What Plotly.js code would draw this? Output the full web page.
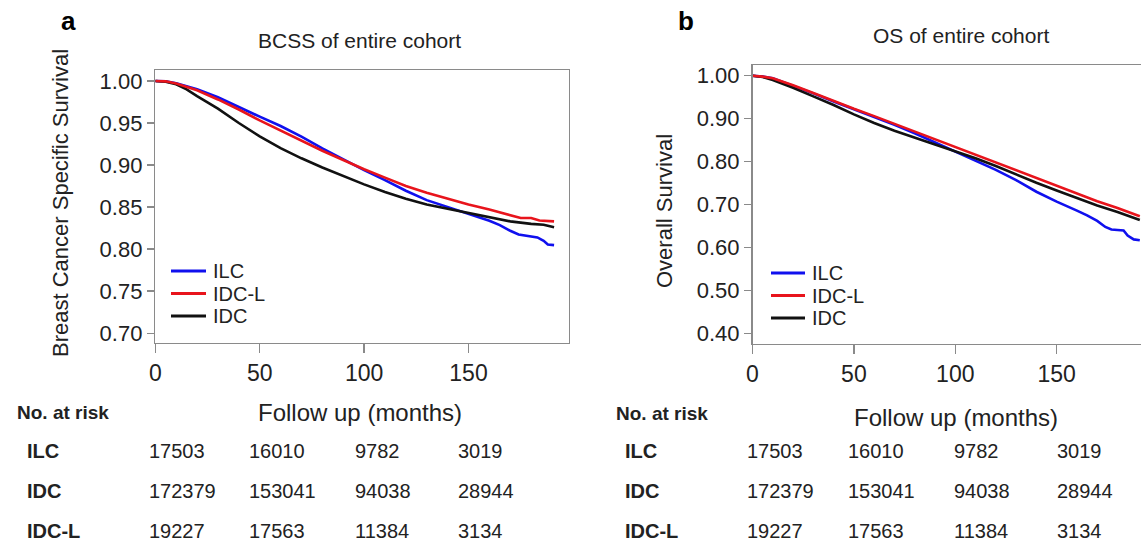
<!DOCTYPE html>
<html>
<head>
<meta charset="utf-8">
<script src="https://cdn.plot.ly/plotly-3.0.1.min.js"></script>
<style>
html, body { margin: 0; padding: 0; background: #fff; overflow: hidden; }
#chart { width: 1200px; height: 542px; }
</style>
</head>
<body>
<div id="chart"></div>
<script>
// ---------------- DATA ----------------
const seriesNames = ["ILC", "IDC-L", "IDC"];
const seriesColors = ["#1010ee", "#e8141c", "#111111"];

// Panel a: Breast Cancer Specific Survival (BCSS)
const bcssIlcMonths = [0, 5, 10, 20, 30, 40, 50, 60, 70, 80, 90, 100, 110, 120, 130, 140, 150, 155, 160, 165, 170, 174, 180, 183, 186, 188, 191];
const bcssIlcSurv   = [1.000, 0.9995, 0.9972, 0.990, 0.9806, 0.9687, 0.9575, 0.9464, 0.9337, 0.9198, 0.9067, 0.894, 0.8821, 0.8694, 0.8583, 0.8504, 0.8425, 0.8377, 0.8337, 0.8286, 0.8218, 0.8175, 0.8155, 0.8139, 0.810, 0.8056, 0.8048];
const bcssIdclMonths = [0, 5, 10, 20, 30, 40, 50, 60, 70, 80, 90, 100, 110, 120, 130, 140, 150, 160, 170, 175, 180, 184, 191];
const bcssIdclSurv   = [1.000, 0.9995, 0.997, 0.989, 0.978, 0.966, 0.953, 0.941, 0.929, 0.917, 0.906, 0.895, 0.885, 0.875, 0.867, 0.860, 0.853, 0.847, 0.840, 0.837, 0.837, 0.834, 0.833];
const bcssIdcMonths = [0, 5, 10, 15, 20, 25, 30, 40, 50, 60, 70, 80, 90, 100, 110, 120, 130, 140, 150, 160, 170, 180, 186, 191];
const bcssIdcSurv   = [1.000, 0.999, 0.996, 0.990, 0.982, 0.975, 0.967, 0.950, 0.934, 0.920, 0.908, 0.897, 0.887, 0.877, 0.868, 0.860, 0.853, 0.848, 0.843, 0.838, 0.833, 0.830, 0.829, 0.826];

// Panel b: Overall Survival (OS)
const osIlcMonths = [0, 5, 10, 20, 30, 40, 50, 60, 70, 80, 90, 100, 110, 120, 130, 140, 150, 155, 160, 165, 170, 174, 177, 180, 183, 185, 188, 191];
const osIlcSurv   = [1.000, 0.998, 0.994, 0.977, 0.959, 0.940, 0.922, 0.905, 0.886, 0.866, 0.845, 0.824, 0.802, 0.781, 0.757, 0.730, 0.707, 0.697, 0.686, 0.675, 0.662, 0.648, 0.642, 0.641, 0.640, 0.628, 0.619, 0.617];
const osIdclMonths = [0, 5, 10, 20, 30, 40, 50, 60, 70, 80, 90, 100, 110, 120, 130, 140, 150, 160, 170, 180, 186, 191];
const osIdclSurv   = [1.000, 0.998, 0.994, 0.978, 0.960, 0.941, 0.923, 0.906, 0.888, 0.870, 0.852, 0.834, 0.815, 0.797, 0.779, 0.762, 0.744, 0.726, 0.708, 0.692, 0.681, 0.673];
const osIdcMonths = [0, 5, 10, 20, 30, 40, 50, 60, 70, 80, 90, 100, 110, 120, 130, 140, 150, 160, 170, 180, 186, 191];
const osIdcSurv   = [1.000, 0.997, 0.990, 0.972, 0.952, 0.932, 0.910, 0.890, 0.872, 0.856, 0.840, 0.824, 0.808, 0.790, 0.770, 0.751, 0.733, 0.715, 0.698, 0.683, 0.673, 0.664];

// Tick labels
const xTickVals = [0, 50, 100, 150];
const bcssTickVals = [0.70, 0.75, 0.80, 0.85, 0.90, 0.95, 1.00];
const osTickVals = [0.40, 0.50, 0.60, 0.70, 0.80, 0.90, 1.00];

// Number at risk table
const riskRowLabels = ["ILC", "IDC", "IDC-L"];
const riskIlc  = ["17503", "16010", "9782", "3019"];
const riskIdc  = ["172379", "153041", "94038", "28944"];
const riskIdcl = ["19227", "17563", "11384", "3134"];

// Text
const panelTitles = ["BCSS of entire cohort", "OS of entire cohort"];
const panelLetters = ["a", "b"];
const yTitles = ["Breast Cancer Specific Survival", "Overall Survival"];
const xTitle = "Follow up (months)";
const riskHeader = "No. at risk";

// ---------------- LAYOUT HELPERS ----------------
const W = 1200, H = 542;
const px = x => x / W;
const py = y => 1 - y / H;
const FONT = "Liberation Sans, Arial, Helvetica, sans-serif";
const TXT = "#222222";
const AX = "#8a8a8a";

const lw = 2.6;
const traces = [
  {x: bcssIlcMonths, y: bcssIlcSurv, color: seriesColors[0], ax: ""},
  {x: bcssIdcMonths, y: bcssIdcSurv, color: seriesColors[2], ax: ""},
  {x: bcssIdclMonths, y: bcssIdclSurv, color: seriesColors[1], ax: ""},
  {x: osIlcMonths, y: osIlcSurv, color: seriesColors[0], ax: "2"},
  {x: osIdcMonths, y: osIdcSurv, color: seriesColors[2], ax: "2"},
  {x: osIdclMonths, y: osIdclSurv, color: seriesColors[1], ax: "2"}
].map(t => ({
  type: "scatter", mode: "lines", x: t.x, y: t.y,
  xaxis: "x" + t.ax, yaxis: "y" + t.ax,
  line: {color: t.color, width: lw, shape: "linear"},
  showlegend: false, hoverinfo: "skip"
}));

function xAxis(domain, anchor) {
  return {
    domain: domain, anchor: anchor, range: [0, 198],
    tickvals: xTickVals, ticks: "outside", ticklen: 9, tickwidth: 1.5, tickcolor: AX,
    showline: true, mirror: true, linecolor: AX, linewidth: 1.5,
    showgrid: false, zeroline: false,
    tickfont: {family: FONT, size: 23, color: TXT}
  };
}
function yAxis(domain, anchor, range, vals) {
  return {
    domain: domain, anchor: anchor, range: range,
    tickvals: vals, tickformat: ".2f", ticks: "outside", ticklen: 7, tickwidth: 1.5, tickcolor: AX,
    showline: true, mirror: true, linecolor: AX, linewidth: 1.5,
    showgrid: false, zeroline: false,
    tickfont: {family: FONT, size: 22, color: TXT}
  };
}

const annotations = [];
const shapes = [];
function txt(x, y, text, size, opts) {
  annotations.push(Object.assign({
    xref: "paper", yref: "paper", x: px(x), y: py(y), text: text, showarrow: false,
    xanchor: "center", yanchor: "middle",
    font: {family: FONT, size: size, color: TXT}
  }, opts || {}));
}

// panel letters
txt(68, 21, "<b>" + panelLetters[0] + "</b>", 26, {font: {family: FONT, size: 26, color: "#000"}});
txt(686, 21, "<b>" + panelLetters[1] + "</b>", 26, {font: {family: FONT, size: 26, color: "#000"}});
// titles
txt(359, 40, panelTitles[0], 21);
txt(961, 35, panelTitles[1], 21);
// y titles
txt(61, 203, yTitles[0], 22, {textangle: -90});
txt(665, 211, yTitles[1], 22, {textangle: -90});
// x titles
txt(360, 412, xTitle, 24);
txt(956, 417, xTitle, 24);
// risk headers
txt(15, 412, "<b>" + riskHeader + "</b>", 19, {xanchor: "left"});
txt(614, 413, "<b>" + riskHeader + "</b>", 19, {xanchor: "left"});

// risk table
const riskRows = [riskIlc, riskIdc, riskIdcl];
const rowYs = [451, 491, 531];
const colXa = [147, 247, 353, 456];
const colXb = [745, 846, 952, 1055];
riskRows.forEach((row, i) => {
  txt(25, rowYs[i], "<b>" + riskRowLabels[i] + "</b>", 20, {xanchor: "left"});
  txt(623, rowYs[i], "<b>" + riskRowLabels[i] + "</b>", 20, {xanchor: "left"});
  row.forEach((v, j) => {
    txt(colXa[j], rowYs[i], v, 20, {xanchor: "left"});
    txt(colXb[j], rowYs[i], v, 20, {xanchor: "left"});
  });
});

// legends (manual, inside panels)
const legA = {x0: 171, x1: 206, tx: 212, ys: [271, 293.5, 316]};
const legB = {x0: 771, x1: 805, tx: 811, ys: [273, 295.5, 318]};
[legA, legB].forEach(L => {
  seriesNames.forEach((n, i) => {
    shapes.push({type: "line", xref: "paper", yref: "paper",
      x0: px(L.x0), x1: px(L.x1), y0: py(L.ys[i]), y1: py(L.ys[i]),
      line: {color: seriesColors[i], width: 3}});
    txt(L.tx, L.ys[i], n, 20, {xanchor: "left", borderpad: 0});
  });
});

const layout = {
  width: W, height: H,
  margin: {l: 0, r: 0, t: 0, b: 0},
  paper_bgcolor: "#ffffff", plot_bgcolor: "#ffffff",
  showlegend: false,
  xaxis: xAxis([px(155.3), px(568.7)], "y"),
  yaxis: yAxis([py(342.5), py(70)], "x", [0.689, 1.013], bcssTickVals),
  xaxis2: xAxis([px(752.5), px(1154)], "y2"),
  yaxis2: yAxis([py(343.8), py(65)], "x2", [0.376, 1.025], osTickVals),
  annotations: annotations,
  shapes: shapes
};

Plotly.newPlot("chart", traces, layout, {displayModeBar: false, staticPlot: true});
</script>
</body>
</html>
